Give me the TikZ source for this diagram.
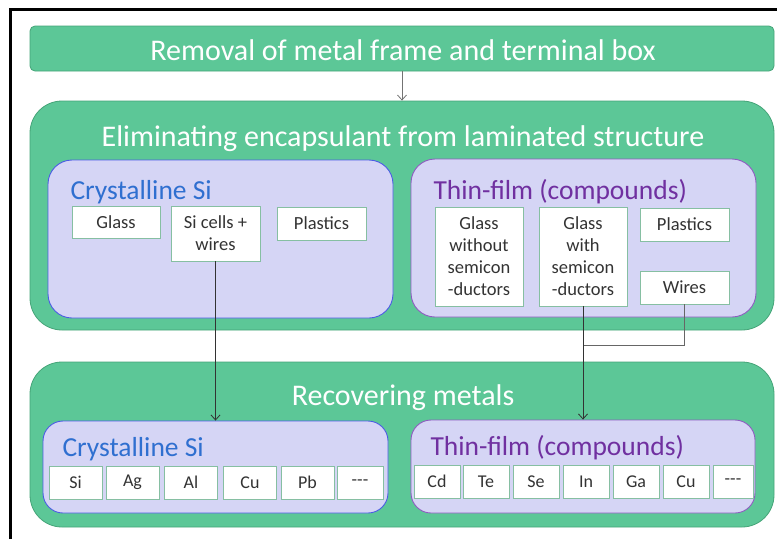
\documentclass[tikz,border=0pt]{standalone}
\usepackage{fontspec}
\setmainfont{Carlito}
\usetikzlibrary{arrows.meta}

\definecolor{stagefill}{HTML}{5CC797}
\definecolor{stageline}{HTML}{45A478}
\definecolor{groupfill}{HTML}{D5D5F5}
\definecolor{siblue}{HTML}{2F6FD0}
\definecolor{siline}{HTML}{4C5CE4}
\definecolor{tfpurple}{HTML}{7030A0}
\definecolor{tfline}{HTML}{8E5DC0}
\definecolor{itemline}{HTML}{86BFA2}
\definecolor{itemtext}{HTML}{333333}

\begin{document}
\begin{tikzpicture}[x=1pt, y=-1pt,
        stage/.style={draw=stageline, fill=stagefill, line width=0.8pt, rounded corners=32pt, minimum width=744pt},
        stagetitle/.style={anchor=base, text=white, font=\fontsize{30}{36}\selectfont},
        group/.style={fill=groupfill, line width=0.9pt, rounded corners=24pt, minimum width=345pt},
        grouptitle/.style={anchor=base west, font=\fontsize{27.5}{33}\selectfont},
        item/.style={draw=itemline, fill=white, text=itemtext, align=center, inner sep=0pt, minimum width=88pt, font=\fontsize{18.5}{22}\selectfont},
        metal/.style={item, minimum width=46pt, minimum height=33pt, font=\fontsize{18}{21}\selectfont},
        link/.style={draw=black!80, line width=0.8pt},
        tip/.style={-{Straight Barb[length=5pt, width=9pt]}}]
        \useasboundingbox (0, 0) rectangle (777, 539);
        \draw[line width=2.4pt] (10.5, 539) -- (10.5, 9.5) -- (777, 9.5);

        % stages
        \node[stage, rounded corners=5pt, minimum height=45pt] (removal) at (402, 48.5) {};
        \node[stagetitle] (removaltitle) at (403, 60) {Removal of metal frame and terminal box};
        \node[stage, minimum height=229pt] (elim) at (402, 215.5) {};
        \node[stagetitle] (elimtitle) at (403, 146) {Eliminating encapsulant from laminated structure};
        \node[stage, minimum height=165pt] (recover) at (402, 444.5) {};
        \node[stagetitle] (recovertitle) at (403, 405) {Recovering metals};

        % eliminating encapsulant
        \node[group, draw=siline, minimum height=158pt] (elimcsi) at (220.5, 239) {};
        \node[grouptitle, text=siblue] (elimcsititle) at (67, 199) {Crystalline Si};
        \node[item, minimum height=32pt] (glass) at (116, 222) {Glass};
        \node[item, minimum width=89pt, minimum height=55pt] (sicells) at (215.5, 233.5) {Si cells +\\wires};
        \node[item, minimum width=89pt, minimum height=33pt] (plastics) at (321.5, 223.5) {Plastics};

        \node[group, draw=tfline, minimum height=158pt] (elimtf) at (583.5, 238) {};
        \node[grouptitle, text=tfpurple] (elimtftitle) at (430, 199) {Thin-film (compounds)};
        \node[item, minimum height=99pt] (glasswo) at (479, 256.5) {Glass\\without\\semicon\\-ductors};
        \node[item, minimum height=99pt] (glasswith) at (583, 256.5) {Glass\\with\\semicon\\-ductors};
        \node[item, minimum width=89pt, minimum height=33pt] (tfplastics) at (684.5, 224.5) {Plastics};
        \node[item, minimum width=89pt, minimum height=33pt] (wires) at (684.5, 287.5) {Wires};

        % recovering metals
        \node[group, draw=siline, minimum height=92pt, rounded corners=20pt] (reccsi) at (215.5, 467) {};
        \node[grouptitle, text=siblue] (reccsititle) at (59, 456) {Crystalline Si};
        \node[metal, minimum width=53pt] (si) at (75.5, 482.5) {Si};
        \node[metal, minimum width=53pt] (ag) at (132.5, 482.5) {Ag};
        \node[metal, minimum width=53pt] (al) at (191, 482.5) {Al};
        \node[metal, minimum width=53pt] (cucsi) at (250, 482.5) {Cu};
        \node[metal, minimum width=53pt] (pb) at (307.5, 482.5) {Pb};
        \node[metal] (morecsi) at (360, 482.5) {-{}-{}-};

        \node[group, draw=tfline, minimum width=344pt, minimum height=93pt, rounded corners=20pt] (rectf) at (583, 466.5) {};
        \node[grouptitle, text=tfpurple] (rectftitle) at (427, 455) {Thin-film (compounds)};
        \node[metal] (cd) at (437, 481.5) {Cd};
        \node[metal] (te) at (486, 481.5) {Te};
        \node[metal] (se) at (536, 481.5) {Se};
        \node[metal] (in) at (586, 481.5) {In};
        \node[metal] (ga) at (636, 481.5) {Ga};
        \node[metal] (cutf) at (686, 481.5) {Cu};
        \node[metal, minimum width=40pt] (moretf) at (733, 481.5) {-{}-{}-};

        % connectors
        \coordinate (wiresjoin) at (583, 345);
        \draw[link, draw=black!55, tip] (removal) -- (elim);
        \draw[link, tip] (sicells) -- (reccsi);
        \draw[link, draw=black!60] (wires) |- (wiresjoin);
        \draw[link, tip] (glasswith) -- (rectf);
    \end{tikzpicture}
\end{document}
